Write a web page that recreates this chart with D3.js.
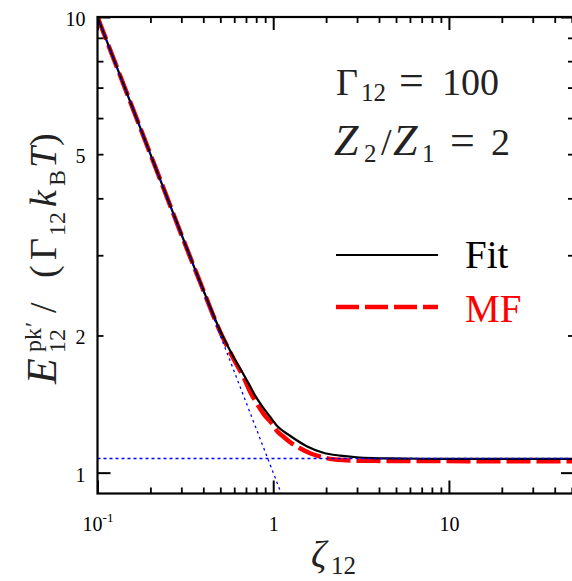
<!DOCTYPE html>
<html><head><meta charset="utf-8">
<script src="https://cdn.jsdelivr.net/npm/d3@7"></script>
<style>
html,body{margin:0;padding:0;background:#fff;}
svg{display:block;}
svg text{font-family:'Liberation Serif','Times New Roman',Times,serif;}
</style></head>
<body>
<svg id="c" width="572" height="581"></svg>
<script>
// ---- data ----
const fitX = [0.1, 0.15, 0.2, 0.25, 0.3, 0.35, 0.4, 0.45, 0.5, 0.55, 0.6, 0.662, 0.72, 0.788, 0.87, 0.959, 1.06, 1.246, 1.551, 1.928, 2.4, 2.987, 3.712, 4.621, 7.12, 15, 51.5];
const fitY = [10, 6.67, 5.0, 4.0, 3.34, 2.866, 2.518, 2.249, 2.044, 1.90, 1.783, 1.67, 1.576, 1.478, 1.395, 1.327, 1.262, 1.205, 1.143, 1.106, 1.090, 1.081, 1.0765, 1.0743, 1.0728, 1.072, 1.072];
const mfX = [0.1, 0.15, 0.2, 0.25, 0.3, 0.35, 0.4, 0.45, 0.5, 0.55, 0.6, 0.676, 0.74, 0.806, 0.89, 0.98, 1.06, 1.142, 1.28, 1.42, 1.62, 1.9, 2.2, 2.6, 3.0, 4.6, 51.5];
const mfY = [10, 6.67, 5.0, 4.0, 3.33, 2.862, 2.514, 2.24, 2.035, 1.885, 1.765, 1.624, 1.503, 1.42, 1.339, 1.284, 1.23, 1.20, 1.158, 1.131, 1.103, 1.082, 1.070, 1.065, 1.0625, 1.061, 1.059];
const guideDiagX = [0.1, 1.111];
const guideDiagY = [10, 0.9];
const guideFlatX = [0.1, 51.5];
const guideFlatY = [1.074, 1.074];

const xDomain = [0.1, 51.5];
const yDomain = [0.9, 10];
const xMajorTicks = [0.1, 1, 10];
const xMinorTicks = [0.2,0.3,0.4,0.5,0.6,0.7,0.8,0.9,2,3,4,5,6,7,8,9,20,30,40,50];
const yMajorTicks = [1, 10];
const yMinorTicks = [2,3,4,5,6,7,8,9];
const yLabelTicks = [1, 2, 5, 10];
const yLabelText = ["1", "2", "5", "10"];

const seriesNames = ["Fit", "MF"];
const seriesColors = ["#000000", "#ff0000"];

// ---- layout ----
const svg = d3.select("#c");
const L = 97.5, R = 574, T = 17, B = 493.5;
const x = d3.scaleLog().domain(xDomain).range([L, R]);
const y = d3.scaleLog().domain(yDomain).range([B, T]);

svg.append("defs").append("clipPath").attr("id","clip")
  .append("rect").attr("x",L).attr("y",T).attr("width",R-L).attr("height",B-T);

const plot = svg.append("g").attr("clip-path","url(#clip)");
const line = d3.line().x(d=>x(d[0])).y(d=>y(d[1]));
const lineC = d3.line().x(d=>x(d[0])).y(d=>y(d[1])).curve(d3.curveMonotoneX);

plot.append("path").datum(mfX.map((v,i)=>[v,mfY[i]]))
  .attr("d",lineC).attr("fill","none").attr("stroke",seriesColors[1])
  .attr("stroke-width",4.5).attr("stroke-dasharray","24,6");
plot.append("path").datum(fitX.map((v,i)=>[v,fitY[i]]))
  .attr("d",lineC).attr("fill","none").attr("stroke",seriesColors[0])
  .attr("stroke-width",2.2);
plot.append("path").datum(guideDiagX.map((v,i)=>[v,guideDiagY[i]]))
  .attr("d",line).attr("fill","none").attr("stroke","#0000ff")
  .attr("stroke-width",1.3).attr("stroke-dasharray","2.5,3.5");
plot.append("path").datum(guideFlatX.map((v,i)=>[v,guideFlatY[i]]))
  .attr("d",line).attr("fill","none").attr("stroke","#0000ff")
  .attr("stroke-width",1.3).attr("stroke-dasharray","3,3");

// ---- axes ----
function styleAxis(g, w){
  g.select(".domain").remove();
  g.selectAll(".tick line").attr("stroke","#000").attr("stroke-width",w);
  g.selectAll(".tick text").remove();
}
svg.append("g").attr("transform",`translate(0,${B})`)
  .call(d3.axisBottom(x).tickValues(xMajorTicks).tickSize(-13)).call(g=>styleAxis(g,2));
svg.append("g").attr("transform",`translate(0,${B})`)
  .call(d3.axisBottom(x).tickValues(xMinorTicks).tickSize(-6)).call(g=>styleAxis(g,1.8));
svg.append("g").attr("transform",`translate(0,${T})`)
  .call(d3.axisTop(x).tickValues(xMajorTicks).tickSize(-13)).call(g=>styleAxis(g,2));
svg.append("g").attr("transform",`translate(0,${T})`)
  .call(d3.axisTop(x).tickValues(xMinorTicks).tickSize(-6)).call(g=>styleAxis(g,1.8));
svg.append("g").attr("transform",`translate(${L},0)`)
  .call(d3.axisLeft(y).tickValues(yMajorTicks).tickSize(-13)).call(g=>styleAxis(g,2));
svg.append("g").attr("transform",`translate(${L},0)`)
  .call(d3.axisLeft(y).tickValues(yMinorTicks).tickSize(-6)).call(g=>styleAxis(g,1.8));
svg.append("g").attr("transform",`translate(${R},0)`)
  .call(d3.axisRight(y).tickValues(yMajorTicks).tickSize(-13)).call(g=>styleAxis(g,2));
svg.append("g").attr("transform",`translate(${R},0)`)
  .call(d3.axisRight(y).tickValues(yMinorTicks).tickSize(-6)).call(g=>styleAxis(g,1.8));

svg.append("rect").attr("x",L).attr("y",T).attr("width",R-L).attr("height",B-T)
  .attr("fill","none").attr("stroke","#000").attr("stroke-width",2.2);

// tick labels x
const xl = svg.append("g").attr("transform",`translate(0,${B})`)
  .call(d3.axisBottom(x).tickValues(xMajorTicks).tickSize(0).tickPadding(0));
xl.select(".domain").remove();
xl.attr("font-family",null).attr("font-size",null);
xl.selectAll(".tick text").each(function(d){
  const t = d3.select(this).text("").attr("y",37).attr("dy",null)
    .attr("font-size",20).attr("fill","#000");
  if (d < 1) {
    t.append("tspan").text("10");
    t.append("tspan").text("-1").attr("font-size",13).attr("dy",-9);
  } else {
    t.text(d3.format("d")(d));
  }
});
// tick labels y
const yl = svg.append("g").attr("transform",`translate(${L},0)`)
  .call(d3.axisLeft(y).tickValues(yLabelTicks).tickSize(0).tickPadding(12)
    .tickFormat((d,i)=>yLabelText[i]));
yl.select(".domain").remove();
yl.attr("font-family",null).attr("font-size",null);
yl.selectAll(".tick text").attr("font-size",20).attr("fill","#000").attr("dy","0.42em");

// ---- axis titles ----
const xt = svg.append("text").attr("fill","#222");
xt.append("tspan").attr("x",311).attr("y",567).attr("font-size",38).attr("font-style","italic").text("ζ");
xt.append("tspan").attr("x",331).attr("y",574).attr("font-size",25).text("12");

const yg = svg.append("g").attr("transform","translate(56,0) rotate(-90)");
const yt = yg.append("text").attr("fill","#222");
const ySpans = [
  ["E",-384,0,42,"italic"],["pk",-352,-15,24,"normal"],["′",-327,-15,24,"normal"],
  ["12",-353,9,24,"normal"],["/",-313,0,38,"normal"],["(",-278,0,38,"normal"],
  ["Γ",-260,0,38,"normal"],["12",-236,9,24,"normal"],["k",-207,0,38,"italic"],
  ["B",-186,9,24,"normal"],["T",-168,0,38,"italic"],[")",-146,0,38,"normal"]
];
ySpans.forEach(s=>yt.append("tspan").attr("x",s[1]).attr("y",s[2]).attr("font-size",s[3])
  .attr("font-style",s[4]).text(s[0]));

// ---- annotations ----
const a1 = svg.append("text").attr("fill","#222");
[["Γ",336,95,38,"normal"],["12",361,101,25,"normal"],["=",399,95,44,"normal"],["100",442,95,38,"normal"]]
  .forEach(s=>a1.append("tspan").attr("x",s[1]).attr("y",s[2]).attr("font-size",s[3]).attr("font-style",s[4]).text(s[0]));
const a2 = svg.append("text").attr("fill","#222");
[["Z",334,155,44,"italic"],["2",364,162,25,"normal"],["/",381,155,38,"normal"],["Z",393,155,44,"italic"],
 ["1",422,162,25,"normal"],["=",450,155,44,"normal"],["2",491,155,38,"normal"]]
  .forEach(s=>a2.append("tspan").attr("x",s[1]).attr("y",s[2]).attr("font-size",s[3]).attr("font-style",s[4]).text(s[0]));

// ---- legend ----
const leg = svg.append("g");
const legY = [255, 307];
const legTextY = [268, 322];
seriesNames.forEach((n,i)=>{
  leg.append("line").attr("x1",336).attr("x2",438).attr("y1",legY[i]).attr("y2",legY[i])
    .attr("stroke",seriesColors[i]).attr("stroke-width",i===0?2.2:4.5)
    .attr("stroke-dasharray",i===0?null:"23,6");
  leg.append("text").attr("x",465).attr("y",legTextY[i]).attr("font-size",39)
    .attr("fill",seriesColors[i]).text(n);
});
</script>
</body></html>
